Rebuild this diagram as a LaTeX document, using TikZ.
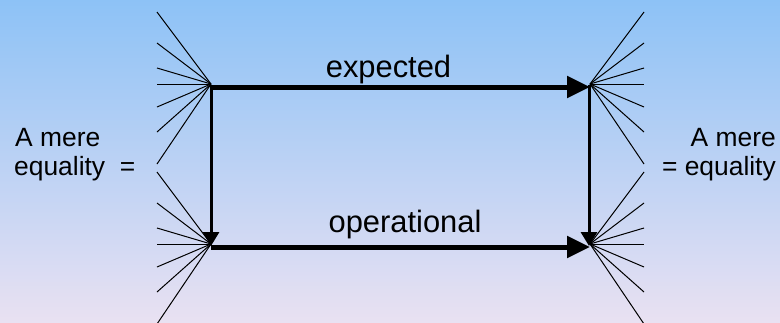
\documentclass[tikz,border=0pt]{standalone}
\usepackage{fontspec}
\setmainfont{Liberation Sans}
\usetikzlibrary{arrows.meta}
\definecolor{skytop}{RGB}{141,194,246}
\definecolor{skybottom}{RGB}{233,225,242}
\begin{document}
\begin{tikzpicture}[x=1bp,y=-1bp,
  fan/.style={line width=1bp,black},
  mainarrow/.style={line width=5bp,-{Triangle[length=23bp,width=21bp]}},
  sidearrow/.style={line width=3bp,-{Triangle[length=14bp,width=16bp]}},
  label/.style={inner sep=0pt,font=\fontsize{31}{36}\selectfont},
  sidetext/.style={inner sep=0pt,font=\fontsize{26.5}{29}\selectfont}]
  % background
  \shade[top color=skytop,bottom color=skybottom] (0,0) rectangle (780,322);
  \useasboundingbox (0,0) rectangle (780,322);

  % corner points of the square
  \coordinate (tl) at (211,84);
  \coordinate (tr) at (590,84);
  \coordinate (bl) at (211,244);
  \coordinate (br) at (590,244);

  % fans of lines at each corner
  \foreach \dy in {-72,-41,-16,0,23,48,80} {
    \draw[fan] (tl) -- ++(-54,\dy);
    \draw[fan] (bl) -- ++(-54,\dy);
    \draw[fan] (tr) -- ++(54,\dy);
    \draw[fan] (br) -- ++(54,\dy);
  }

  % arrow end points
  \coordinate (tlA) at (211,87);
  \coordinate (trA) at (590,87);
  \coordinate (blA) at (211,247);
  \coordinate (brA) at (590,247);
  \coordinate (tlV) at (211,85);
  \coordinate (trV) at (589,85);
  \coordinate (blV) at (211,246);
  \coordinate (brV) at (589,246);

  \draw[sidearrow] (tlV) -- (blV);
  \draw[sidearrow] (trV) -- (brV);
  \draw[mainarrow] (tlA) -- (trA);
  \draw[mainarrow] (blA) -- (brA);

  % labels
  \node[label,anchor=base] (exp) at (388.5,77) {expected};
  \node[label,anchor=base] (op) at (405,232) {operational};

  \node[sidetext,anchor=base west] (l1) at (15,146) {A mere};
  \node[sidetext,anchor=base west] (l2) at (14,175) {equality\ \ =};
  \node[sidetext,anchor=base east] (r1) at (776,146) {A mere};
  \node[sidetext,anchor=base east] (r2) at (776,175) {= equality};
\end{tikzpicture}
\end{document}
